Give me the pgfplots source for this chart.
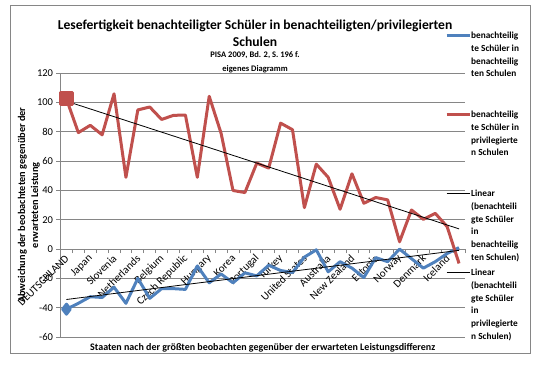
\documentclass[border=0pt]{standalone}
\usepackage{pgfplots}
\usepackage{pgfplotstable}
\pgfplotsset{compat=1.18}
\usepackage{fontspec}
\setmainfont{Carlito}
\definecolor{xlblue}{HTML}{4F81BD}
\definecolor{xlred}{HTML}{C0504D}
\definecolor{xlgray}{HTML}{868686}

\pgfplotstableread{
x blue red
1 -41 102.5
2 -37 79.5
3 -32.5 84.5
4 -33 78
5 -26 106
6 -37 49
7 -20 95
8 -33.6 97
9 -27 88.5
10 -27 91.3
11 -27.5 91.5
12 -11.5 49
13 -23 104.3
14 -17 79
15 -23 40
16 -16.2 38.6
17 -18.3 58.7
18 -11 55.3
19 -14.6 86
20 -16 81.5
21 -5.5 28.3
22 -0.5 58
23 -15.5 49
24 -8.6 27.2
25 -13 51.4
26 -19.4 31.3
27 -5.8 35.2
28 -8.6 33.6
29 0 5
30 -6.5 26.7
31 -13 20.3
32 -8.6 24.4
33 -3 15.3
34 1 -9.8
}\data

\newcommand{\lgd}[1]{\parbox[t][79bp][t]{64bp}{\raggedright\fontsize{9.3bp}{12.9bp}\selectfont\bfseries\strut #1}}

\begin{document}
\begin{tikzpicture}
\useasboundingbox (0,0) rectangle (551bp,365bp);
\draw[xlgray, line width=0.8bp] (10.5bp,12bp) rectangle (530bp,360bp);
\begin{axis}[
  at={(60.5bp,28bp)}, anchor=south west,
  scale only axis, width=404.5bp, height=263.7bp,
  xmin=0.5, xmax=34.5, ymin=-60, ymax=120,
  axis x line=middle, axis y line=left,
  axis line style={xlgray, line width=0.8bp, -},
  ytick={-60,-40,...,120},
  ymajorgrids, grid style={xlgray, line width=0.8bp},
  xtick={1,3,...,33},
  xticklabels={DEUTSCHLAND,Japan,Slovenia,Netherlands,Belgium,Czech Republic,Hungary,Korea,Portugal,Turkey,United States,Australia,New Zealand,Estonia,Norway,Denmark,Iceland},
  major x tick style={draw=none},
  minor xtick={0.5,1.5,...,34.5},
  minor x tick style={xlgray, line width=0.8bp},
  y tick style={xlgray, line width=0.8bp},
  minor tick length=4bp, major tick length=4bp,
  tick align=outside,
  /pgf/number format/assume math mode=true,
  yticklabel style={font=\fontsize{10.5bp}{12bp}\selectfont},
  xticklabel style={font=\fontsize{11bp}{12bp}\selectfont, rotate=45, anchor=east, inner sep=1bp, yshift=-3bp, xshift=-1bp},
  xlabel={Staaten nach der größten beobachten gegenüber der erwarteten Leistungsdifferenz},
  xlabel style={at={(axis description cs:0.5,-0.042)}, anchor=center, font=\bfseries\fontsize{10bp}{12bp}\selectfont},
  ylabel={Abweichung der beobachteten gegenüber der\\erwarteten Leistung},
  ylabel style={at={(axis description cs:-0.078,0.5)}, anchor=center, align=center, font=\bfseries\fontsize{10.3bp}{13bp}\selectfont},
  title={Lesefertigkeit benachteiligter Schüler in benachteiligten/privilegierten\\Schulen\\[-6bp]{\fontsize{8.5bp}{13bp}\selectfont PISA 2009, Bd. 2, S. 196 f.}\\[-3bp]{\fontsize{8.5bp}{13bp}\selectfont eigenes Diagramm}},
  title style={at={(axis description cs:0.481,1.179)}, anchor=north, align=center, inner sep=0pt, font=\bfseries\fontsize{13.6bp}{17bp}\selectfont},
  legend style={at={(axis description cs:0.9506,1.168)}, anchor=north west, draw=none, fill=none, inner sep=0pt, row sep=0pt, nodes={inner sep=0pt, text depth=}, cells={anchor=base west}},
  legend image code/.code={\draw[#1] (0bp,3bp) -- (23bp,3bp);},
  clip=false,
]
\addplot[xlblue, line width=3bp, line join=round, mark=diamond*, mark size=5bp, mark indices={1}, mark options={solid}] table[x=x, y=blue] {\data};
\addlegendentry{\lgd{benachteilig\\te Schüler in\\benachteilig\\ten Schulen}}
\addplot[xlred, line width=3bp, line join=round, mark=square*, mark size=6bp, mark indices={1}] table[x=x, y=red] {\data};
\addlegendentry{\lgd{benachteilig\\te Schüler in\\privilegierte\\n Schulen}}
\addplot[black, line width=0.8bp] table[x=x, y={create col/linear regression={y=blue}}] {\data};
\addlegendentry{\lgd{Linear\\(benachteili\\gte Schüler\\in\\benachteilig\\ten Schulen)}}
\addplot[black, line width=0.8bp] table[x=x, y={create col/linear regression={y=red}}] {\data};
\addlegendentry{\lgd{Linear\\(benachteili\\gte Schüler\\in\\privilegierte\\n Schulen)}}
\end{axis}
\end{tikzpicture}
\end{document}
